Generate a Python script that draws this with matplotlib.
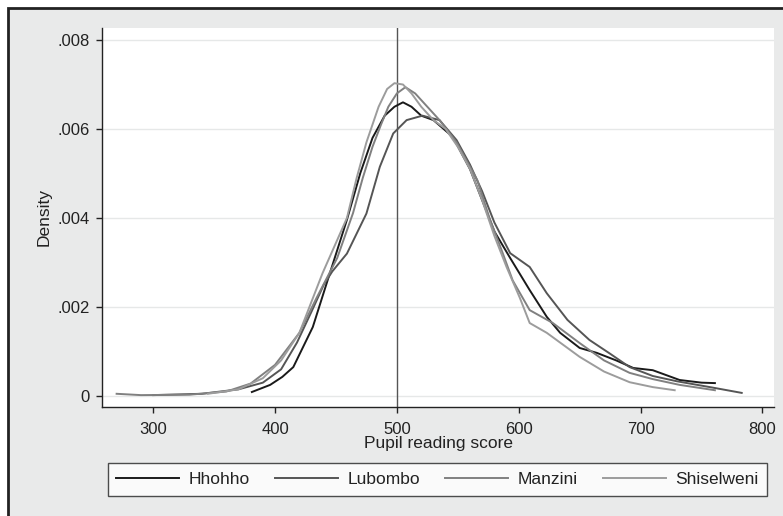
import matplotlib
matplotlib.use("Agg")
import matplotlib.pyplot as plt
from matplotlib.patches import Rectangle

plt.rcParams['font.family'] = ['Liberation Sans', 'DejaVu Sans']

# ---- data (kernel density curves) ----
hhohho_x = [381, 396, 406, 415, 431, 445, 459, 470, 480, 490, 498, 505, 512, 520, 530, 546,
            560, 570, 580, 593, 609, 623, 634, 650, 664, 680, 694, 710, 732, 750, 761]
hhohho_y = [0.00009, 0.00025, 0.00043, 0.00065, 0.00155, 0.00276, 0.00396, 0.00501, 0.0058,
            0.0063, 0.0065, 0.0066, 0.0065, 0.0063, 0.0062, 0.00582, 0.0051, 0.0044, 0.0037,
            0.0031, 0.00238, 0.00178, 0.00142, 0.00108, 0.00097, 0.0008, 0.00063, 0.00058,
            0.00036, 0.0003, 0.00029]

lubombo_x = [300, 340, 370, 390, 405, 418, 430, 440, 447, 459, 475, 486, 497, 508, 521,
             535, 549, 560, 570, 580, 593, 609, 623, 640, 658, 675, 691, 710, 730, 761, 783]
lubombo_y = [0.00002, 0.00005, 0.00015, 0.0003, 0.0006, 0.0012, 0.0019, 0.0025, 0.0028,
             0.0032, 0.0041, 0.00515, 0.0059, 0.0062, 0.0063, 0.0062, 0.00575, 0.0052,
             0.0046, 0.0039, 0.00321, 0.0029, 0.00231, 0.00171, 0.00126, 0.00095, 0.00065,
             0.00045, 0.00033, 0.00018, 0.00007]

manzini_x = [270, 290, 330, 360, 380, 400, 420, 434, 451, 464, 472, 480, 487, 493, 500, 507,
             515, 525, 535, 549, 566, 576, 587, 595, 609, 628, 650, 670, 691, 710, 732, 761]
manzini_y = [0.00005, 0.00002, 0.00003, 0.0001, 0.00028, 0.0007, 0.00142, 0.0022, 0.0031,
             0.00411, 0.0049, 0.0056, 0.0061, 0.0065, 0.0068, 0.00694, 0.0068, 0.0065, 0.0062,
             0.0057, 0.00485, 0.0040, 0.0032, 0.0026, 0.00193, 0.00164, 0.00119, 0.0008,
             0.00052, 0.00038, 0.00025, 0.00013]

shiselweni_x = [345, 370, 390, 405, 420, 439, 459, 467, 475, 480, 485, 492, 498, 505, 512, 520,
                530, 540, 550, 560, 570, 580, 590, 601, 609, 623, 650, 670, 691, 710, 728]
shiselweni_y = [0.00005, 0.00015, 0.0004, 0.0008, 0.00142, 0.00276, 0.0040, 0.0049, 0.0057,
                0.0061, 0.0065, 0.0069, 0.00703, 0.0070, 0.0068, 0.0065, 0.0062, 0.006, 0.0056,
                0.0051, 0.0044, 0.0036, 0.0029, 0.0022, 0.00164, 0.00142, 0.00088, 0.00055,
                0.00031, 0.0002, 0.00013]

series = [("Hhohho", hhohho_x, hhohho_y, "#1a1a1a"),
          ("Lubombo", lubombo_x, lubombo_y, "#555555"),
          ("Manzini", manzini_x, manzini_y, "#808080"),
          ("Shiselweni", shiselweni_x, shiselweni_y, "#9c9c9c")]

xticks = [300, 400, 500, 600, 700, 800]
yticks = [0, 0.002, 0.004, 0.006, 0.008]
ytick_labels = ["0", ".002", ".004", ".006", ".008"]
ref_line = 500

W, H = 783, 516
fig = plt.figure(figsize=(W / 100, H / 100), dpi=100, facecolor="white")

# outer Stata-like frame (cropped at right/bottom)
bg = Rectangle((8 / W, -0.2), 1.5, 1.2 - 8 / H, transform=fig.transFigure,
               facecolor="#e9eaea", edgecolor="#222222", linewidth=2.0, zorder=-10)
fig.patches.append(bg)

ax = fig.add_axes([102 / W, 1 - 407 / H, (774 - 102) / W, (407 - 28) / H], zorder=1)
ax.set_facecolor("white")
for name, xs, ys, c in series:
    ax.plot(xs, ys, color=c, lw=1.4, label=name, solid_joinstyle="round")
ax.axvline(ref_line, color="#555555", lw=1.0, zorder=1)

ax.set_xlim(258, 809.5)
ax.set_ylim(-0.000247, 0.00827)
ax.set_xticks(xticks)
ax.set_yticks(yticks)
ax.set_yticklabels(ytick_labels)
ax.grid(axis="y", color="#e6e8e8", lw=1.0)
ax.set_axisbelow(True)
for s in ["top", "right"]:
    ax.spines[s].set_visible(False)
for s in ["left", "bottom"]:
    ax.spines[s].set_color("#222222")
    ax.spines[s].set_linewidth(1.0)
ax.tick_params(axis="both", direction="out", length=4.5, width=1, color="#222222",
               labelsize=12, labelcolor="#222222")
ax.tick_params(axis="y", pad=4.5)
ax.tick_params(axis="x", pad=6.5)
ax.set_xlabel("Pupil reading score", fontsize=12.5, color="#222222", labelpad=-1)
ax.set_ylabel("Density", fontsize=12.5, color="#222222", labelpad=4)

leg = fig.legend(loc="center", bbox_to_anchor=(437.5 / W, 1 - 479.5 / H),
                 ncol=4, frameon=True, fancybox=False, fontsize=12.5,
                 handlelength=3.6, handletextpad=0.57, borderaxespad=0, borderpad=0.5,
                 columnspacing=1.45)
leg.get_frame().set_edgecolor("#222222")
leg.get_frame().set_linewidth(1.0)
leg.get_frame().set_facecolor("white")
for t in leg.get_texts():
    t.set_color("#222222")

fig.savefig("out.png", dpi=100, facecolor="white")
